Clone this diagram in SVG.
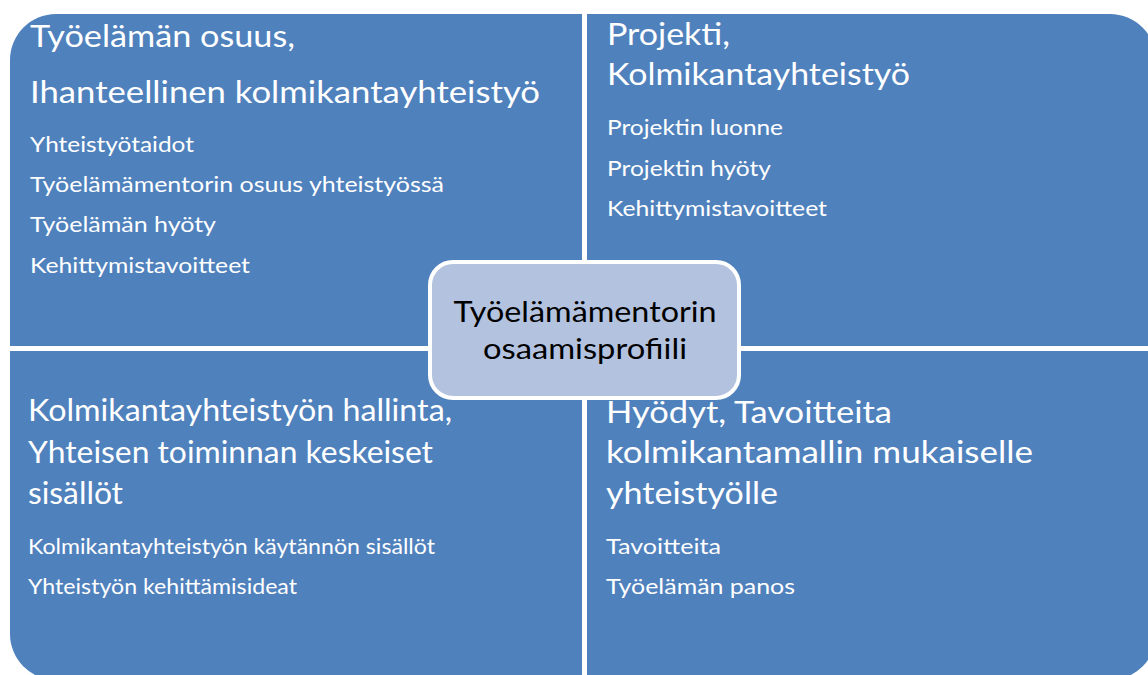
<svg xmlns="http://www.w3.org/2000/svg" width="1148" height="675" viewBox="0 0 1148 675">
<style>
.q{fill:#4F81BD;}
.t{font-family:Lato,"Open Sans",sans-serif;fill:#FFFFFF;font-size:30px;}
.s{font-family:Lato,"Open Sans",sans-serif;fill:#FFFFFF;font-size:21px;}
.c{font-family:Lato,"Open Sans",sans-serif;fill:#000000;font-size:29px;text-anchor:middle;}
</style>
<rect x="0" y="0" width="1148" height="675" fill="#FFFFFF"/>
<g id="q-tl">
<path class="q" d="M10,346 V60 A46,46 0 0 1 56,14 H582 V346 Z"/>
<text class="t" x="30" y="47" textLength="265" lengthAdjust="spacingAndGlyphs">Työelämän osuus,</text>
<text class="t" x="30" y="103" textLength="510" lengthAdjust="spacingAndGlyphs">Ihanteellinen kolmikantayhteistyö</text>
<text class="s" x="30" y="152" textLength="164" lengthAdjust="spacingAndGlyphs">Yhteistyötaidot</text>
<text class="s" x="30" y="192" textLength="414" lengthAdjust="spacingAndGlyphs">Työelämämentorin osuus yhteistyössä</text>
<text class="s" x="30" y="232" textLength="186" lengthAdjust="spacingAndGlyphs">Työelämän hyöty</text>
<text class="s" x="30" y="273" textLength="220" lengthAdjust="spacingAndGlyphs">Kehittymistavoitteet</text>
</g>
<g id="q-tr">
<path class="q" d="M587,14 H1110 A46,46 0 0 1 1156,60 V346 H587 Z"/>
<text class="t" x="607" y="45" textLength="123" lengthAdjust="spacingAndGlyphs">Projekti,</text>
<text class="t" x="607" y="85" textLength="303" lengthAdjust="spacingAndGlyphs">Kolmikantayhteistyö</text>
<text class="s" x="607" y="135" textLength="176" lengthAdjust="spacingAndGlyphs">Projektin luonne</text>
<text class="s" x="607" y="176" textLength="164" lengthAdjust="spacingAndGlyphs">Projektin hyöty</text>
<text class="s" x="607" y="216" textLength="220" lengthAdjust="spacingAndGlyphs">Kehittymistavoitteet</text>
</g>
<g id="q-bl">
<path class="q" d="M10,351 H582 V680 H56 A46,46 0 0 1 10,634 Z"/>
<text class="t" x="28" y="421" textLength="424" lengthAdjust="spacingAndGlyphs">Kolmikantayhteistyön hallinta,</text>
<text class="t" x="28" y="463" textLength="405" lengthAdjust="spacingAndGlyphs">Yhteisen toiminnan keskeiset</text>
<text class="t" x="28" y="504" textLength="95" lengthAdjust="spacingAndGlyphs">sisällöt</text>
<text class="s" x="28" y="554" textLength="407" lengthAdjust="spacingAndGlyphs">Kolmikantayhteistyön käytännön sisällöt</text>
<text class="s" x="28" y="594" textLength="269" lengthAdjust="spacingAndGlyphs">Yhteistyön kehittämisideat</text>
</g>
<g id="q-br">
<path class="q" d="M587,351 H1156 V634 A46,46 0 0 1 1110,680 H587 Z"/>
<text class="t" x="606" y="423" textLength="286" lengthAdjust="spacingAndGlyphs">Hyödyt, Tavoitteita</text>
<text class="t" x="606" y="463" textLength="427" lengthAdjust="spacingAndGlyphs">kolmikantamallin mukaiselle</text>
<text class="t" x="606" y="504" textLength="172" lengthAdjust="spacingAndGlyphs">yhteistyölle</text>
<text class="s" x="606" y="554" textLength="115" lengthAdjust="spacingAndGlyphs">Tavoitteita</text>
<text class="s" x="606" y="594" textLength="189" lengthAdjust="spacingAndGlyphs">Työelämän panos</text>
</g>
<g id="center">
<rect x="430" y="262" width="309" height="136" rx="23" fill="#B3C3DF" stroke="#FFFFFF" stroke-width="4"/>
<text class="c" x="585" y="322" textLength="263" lengthAdjust="spacingAndGlyphs">Työelämämentorin</text>
<text class="c" x="585" y="359" textLength="204" lengthAdjust="spacingAndGlyphs">osaamisprofiili</text>
</g>
<g id="connectors"></g>
</svg>
